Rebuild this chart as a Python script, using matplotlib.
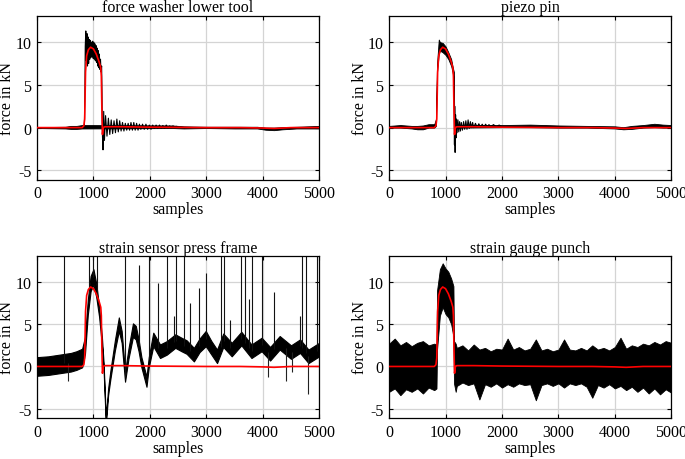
import numpy as np
import matplotlib
matplotlib.use("Agg")
import matplotlib.pyplot as plt

plt.rcParams['font.family'] = ['Liberation Serif', 'DejaVu Serif']
plt.rcParams['axes.unicode_minus'] = False

titles = ['force washer lower tool', 'piezo pin',
          'strain sensor press frame', 'strain gauge punch']
x_ticks = [0, 1000, 2000, 3000, 4000, 5000]
y_ticks = [-5, 0, 5, 10]

# red reference curve (same in all panels)
ref_x = [0, 800, 830, 845, 860, 880, 910, 950, 1000, 1050, 1100, 1130, 1140,
         1150, 1160, 1175, 1200, 1500, 2000, 3000, 3600, 4000, 4200, 4500, 5000]
ref_y = [0, 0, 0.2, 1.0, 6.5, 8.4, 9.1, 9.4, 9.2, 8.6, 7.7, 7.0, 6.0,
         2.0, -0.8, 0.0, 0.1, 0.1, 0.05, 0.0, 0.0, -0.05, -0.1, 0.0, 0.0]

# force washer lower tool: baseline envelope + peaks of the oscillating trace
fw_x = [0, 500, 600, 700, 800, 840, 2400, 2600, 3000, 3500, 3900, 4050, 4200,
        4350, 4600, 4800, 5000]
fw_hi = [0.05, 0.1, 0.2, 0.2, 0.3, 0.3, 0.25, 0.15, 0.1, 0.1, 0.1, 0.0, 0.0,
         0.05, 0.1, 0.15, 0.2]
fw_lo = [-0.05, -0.1, -0.15, -0.15, -0.1, -0.1, -0.05, -0.1, -0.05, -0.1, -0.1, -0.25, -0.3,
         -0.2, -0.1, -0.1, -0.1]
fw_osc_x = [840, 848, 855, 865, 875, 885, 895, 905, 915, 925, 935, 945, 955, 965, 975,
            985, 995, 1005, 1015, 1025, 1035, 1045, 1055, 1065, 1075, 1085, 1095,
            1105, 1115, 1125, 1135, 1145, 1152, 1160, 1170, 1182, 1195, 1215, 1240,
            1265, 1290, 1315, 1340, 1365, 1390, 1415, 1440, 1465, 1490, 1515, 1540,
            1565, 1590, 1615, 1640, 1665, 1690, 1715, 1740, 1765, 1790, 1815, 1840,
            1870, 1900, 1930, 1960, 1990, 2020, 2050, 2080, 2110, 2140, 2170, 2200,
            2230, 2260, 2290, 2320, 2350, 2380, 2410, 2440, 2470, 2500]
fw_osc_y = [0.2, 4.0, 9.5, 11.3, 7.8, 11.0, 7.2, 10.6, 7.5, 10.3, 8.0, 10.2, 8.2, 10.0, 8.3,
            10.1, 8.1, 10.0, 8.0, 9.8, 7.8, 9.6, 7.6, 9.3, 7.2, 9.0, 7.0,
            8.6, 6.8, 8.0, 6.5, 7.2, 4.0, -1.0, -2.6, 1.9, -1.5, 1.4, -1.0,
            1.1, -0.8, 0.9, -0.7, 0.8, -0.6, 1.0, -0.5, 0.8, -0.4, 0.6, -0.4,
            0.5, -0.3, 0.5, -0.3, 0.6, -0.3, 0.6, -0.3, 0.5, -0.3, 0.4, -0.2,
            0.4, -0.2, 0.4, -0.2, 0.3, -0.2, 0.3, -0.1, 0.3, -0.1, 0.3, -0.1,
            0.25, -0.1, 0.3, -0.05, 0.2, 0.0, 0.2, 0.0, 0.15, 0.05]

# piezo pin: envelope + peaks after the drop
pp_x = [0, 200, 400, 500, 600, 700, 800, 830, 850, 880, 900, 950, 1000, 1050,
        1100, 1130, 1148, 1155, 2000, 2500, 3000, 3500, 4000, 4150, 4300, 4500,
        4700, 4850, 5000]
pp_hi = [0.2, 0.3, 0.2, 0.2, 0.25, 0.4, 0.4, 1.0, 7.5, 10.3, 10.0, 9.9, 9.5, 8.8,
         8.0, 7.0, 6.5, 0.3, 0.3, 0.35, 0.25, 0.2, 0.15, 0.05, 0.2, 0.3,
         0.45, 0.35, 0.3]
pp_lo = [0.0, 0.0, -0.1, -0.2, -0.2, 0.0, 0.0, 0.2, 6.5, 8.6, 9.0, 8.8, 8.5, 8.0,
         7.2, 6.3, 5.5, 0.0, 0.05, 0.05, 0.0, 0.0, -0.1, -0.2, -0.15, 0.0,
         0.05, 0.0, 0.0]
pp_osc_x = [1150, 1158, 1163, 1170, 1178, 1186, 1195, 1205, 1220, 1235, 1250, 1265,
            1280, 1300, 1320, 1340, 1360, 1380, 1400, 1420, 1440, 1460, 1480, 1500,
            1530, 1560, 1590, 1620, 1650, 1680, 1710, 1740, 1770, 1800, 1850, 1900,
            1950, 2000]
pp_osc_y = [6.0, -2.0, 2.5, -2.9, 1.5, -1.2, 1.0, -0.6, 0.9, -0.5, 0.7, -0.4,
            0.6, -0.3, 0.7, -0.2, 0.8, -0.2, 0.9, -0.1, 0.7, 0.0, 0.6, 0.0,
            0.5, 0.05, 0.45, 0.05, 0.4, 0.05, 0.4, 0.1, 0.35, 0.1, 0.35, 0.1,
            0.3, 0.1]

# strain sensor press frame: band centre, band half width, spikes
ss_x = [0, 200, 400, 500, 600, 700, 800, 850, 900, 950, 1000, 1050, 1100, 1150,
        1180, 1220, 1260, 1300, 1380, 1450, 1500, 1560, 1620, 1700, 1750, 1800,
        1850, 1940, 1980, 2060, 2180, 2300, 2450, 2560, 2650, 2780, 2880, 2990,
        3090, 3190, 3300, 3450, 3620, 3800, 3980, 4130, 4300, 4500, 4660, 4810, 5000]
ss_mid = [0.0, 0.1, 0.3, 0.4, 0.5, 0.7, 1.0, 2.5, 7.0, 9.8, 10.6, 9.0, 6.5, 3.0,
          0.0, -6.5, -3.0, -1.0, 2.5, 5.0, 3.5, -1.2, 1.5, 4.3, 4.0, 2.5,
          0.5, -1.8, 0.5, 3.2, 1.8, 2.2, 3.0, 2.6, 2.3, 1.4, 2.5, 3.3,
          2.2, 1.2, 3.1, 2.0, 3.3, 1.8, 2.6, 1.5, 2.8, 1.7, 2.4, 1.2, 2.0]
ss_spread = [1.1, 1.1, 1.1, 1.1, 1.1, 1.1, 1.1, 1.0, 0.9, 0.9, 0.9, 0.8, 0.6, 0.5,
             0.4, 0.4, 0.4, 0.5, 0.6, 0.8, 0.7, 0.6, 0.6, 0.8, 0.8, 0.7,
             0.6, 0.6, 0.6, 0.8, 0.8, 0.8, 0.8, 0.8, 0.8, 0.8, 0.8, 0.9,
             0.8, 0.8, 0.8, 0.8, 0.8, 0.8, 0.8, 0.8, 0.8, 0.8, 0.8, 0.8, 0.8]
ss_spike_x = [485, 928, 999, 1070, 1560, 1800, 1991, 2151, 2300, 2430, 2460, 2600,
              2710, 2870, 2995, 3255, 3310, 3420, 3610, 3690, 3760, 3806, 3995,
              4202, 4663, 4693, 4760, 4960]
ss_spike_top = [14, 14, 14, 14, 14, 12, 14, 9.9, 14, 6, 14, 14,
                7.5, 9.3, 11, 14, 14, 5.5, 14, 14, 8, 14, 14,
                8.8, 6, 14, 14, 14]
ss_dip_x = [550, 4100, 4410, 4515, 4810]
ss_dip_low = [-1.7, -1.2, -1.7, -0.6, -3.2]

# strain gauge punch
sg_x = [0, 100, 200, 300, 400, 500, 600, 700, 800, 840, 850, 900, 950, 1000, 1050,
        1100, 1140, 1150, 1180, 1200, 1300, 1400, 1500, 1600, 1700, 1800, 1900,
        2000, 2100, 2200, 2300, 2400, 2500, 2600, 2700, 2800, 2900, 3000, 3100,
        3200, 3300, 3400, 3500, 3600, 3700, 3800, 3900, 4000, 4100, 4200, 4300,
        4400, 4500, 4600, 4700, 4800, 4900, 5000]
sg_hi = [2.7, 3.3, 2.5, 2.9, 2.4, 2.8, 3.0, 2.5, 2.7, 2.6, 9.0, 11.5, 12.2, 11.6, 11.2,
         10.4, 9.5, 3.0, 2.7, 2.2, 2.5, 1.9, 2.6, 2.0, 2.2, 1.8, 2.1,
         2.0, 3.3, 2.0, 2.3, 1.9, 2.1, 3.2, 1.9, 2.1, 1.8, 2.0, 3.2,
         2.0, 1.9, 2.2, 1.9, 2.5, 2.0, 2.2, 1.9, 2.3, 3.4, 2.1, 2.5,
         2.3, 2.7, 2.5, 2.9, 2.6, 3.0, 2.8]
sg_lo = [-3.0, -2.6, -3.4, -2.7, -3.0, -2.6, -3.2, -2.5, -2.8, -2.6, 2.0, 6.0, 7.0, 6.2, 5.8,
         5.0, 3.5, -2.0, -3.0, -2.3, -1.9, -2.2, -2.0, -3.9, -2.1, -2.4, -2.0,
         -2.5, -2.1, -2.4, -2.0, -2.2, -2.1, -4.0, -2.2, -2.0, -2.3, -2.0, -2.5,
         -2.0, -2.2, -2.0, -2.4, -3.7, -2.2, -2.5, -2.1, -2.6, -2.3, -2.8, -2.4,
         -3.0, -2.5, -3.2, -2.6, -3.3, -2.7, -3.1]

fig = plt.figure(figsize=(6.85, 4.6), dpi=100)
positions = [[0.054, 0.607, 0.412, 0.357], [0.568, 0.607, 0.412, 0.357],
             [0.054, 0.089, 0.412, 0.353], [0.568, 0.089, 0.412, 0.353]]
axes = [fig.add_axes(p) for p in positions]

# black traces
axes[0].fill_between(fw_x, fw_lo, fw_hi, color='black', lw=0.6)
axes[0].plot(fw_osc_x, fw_osc_y, color='black', lw=0.8)

axes[1].fill_between(pp_x, pp_lo, pp_hi, color='black', lw=0.6)
axes[1].plot(pp_osc_x, pp_osc_y, color='black', lw=0.8)

ss_mid_arr = np.array(ss_mid)
ss_spread_arr = np.array(ss_spread)
axes[2].fill_between(ss_x, ss_mid_arr - ss_spread_arr, ss_mid_arr + ss_spread_arr,
                     color='black', lw=0.8)
spike_base = np.interp(ss_spike_x, ss_x, ss_mid)
axes[2].vlines(ss_spike_x, spike_base, ss_spike_top, color='#111111', lw=0.8)
dip_base = np.interp(ss_dip_x, ss_x, ss_mid)
axes[2].vlines(ss_dip_x, ss_dip_low, dip_base, color='#222222', lw=0.8)

axes[3].fill_between(sg_x, sg_lo, sg_hi, color='black', lw=0.6)

for ax, title in zip(axes, titles):
    ax.plot(ref_x, ref_y, color='red', lw=1.2, zorder=5)
    ax.set_xlim(0, 5000)
    ax.set_ylim(-6.1, 13.1)
    ax.set_xticks(x_ticks)
    ax.set_yticks(y_ticks)
    ax.set_title(title, fontsize=11.5, pad=3)
    ax.set_xlabel('samples', fontsize=11.5, labelpad=0)
    ax.set_ylabel('force in kN', fontsize=11.5, labelpad=0)
    ax.grid(True, color='#d4d4d4', lw=0.9)
    ax.set_axisbelow(True)
    ax.tick_params(direction='in', length=3, top=True, right=True,
                   labelsize=11.5, width=0.8, pad=4)
    for s in ax.spines.values():
        s.set_linewidth(0.9)

fig.savefig('out.png', dpi=100)
